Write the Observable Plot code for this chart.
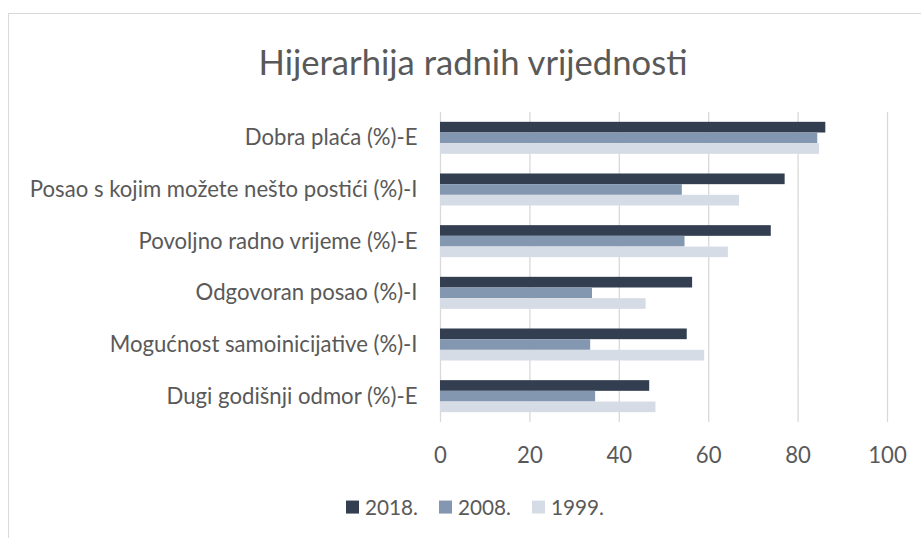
<!DOCTYPE html>
<html>
<head>
<meta charset="utf-8">
<script src="https://cdn.jsdelivr.net/npm/d3@7"></script>
<script src="https://cdn.jsdelivr.net/npm/@observablehq/plot@0.6"></script>
<style>
  html, body { margin: 0; padding: 0; background: #fff; }
  body { width: 921px; height: 538px; overflow: hidden; position: relative; font-family: Lato, "Open Sans", sans-serif; color: #595959; }
  #frame { position: absolute; left: 8px; top: 13px; width: 960px; height: 600px; border-top: 1px solid #d9d9d9; border-left: 1px solid #d9d9d9; }
  #title { position: absolute; left: 0; width: 946px; top: 62px; transform: translateY(-50%); text-align: center; white-space: nowrap; line-height: 1.2; }
  #chart { position: absolute; left: 0; top: 0; }
  #legend { position: absolute; left: 346px; top: 507px; transform: translateY(-50%); display: flex; align-items: center; white-space: nowrap; line-height: 1.2; }
  .sw { display: inline-block; width: 13px; height: 13px; margin-right: 6px; flex: none; }
  .item { display: flex; align-items: center; width: 93px; }
</style>
</head>
<body>
<div id="frame"></div>
<div id="title">Hijerarhija radnih vrijednosti</div>
<div id="chart"></div>
<div id="legend"></div>
<script>
const categories = [
  "Dobra plaća (%)-E",
  "Posao s kojim možete nešto postići (%)-I",
  "Povoljno radno vrijeme (%)-E",
  "Odgovoran posao (%)-I",
  "Mogućnost samoinicijative (%)-I",
  "Dugi godišnji odmor (%)-E"
];
const years = ["2018.", "2008.", "1999."];
const v2018 = [86.2, 77.1, 74.0, 56.4, 55.2, 46.8];
const v2008 = [84.4, 54.1, 54.7, 34.0, 33.6, 34.7];
const v1999 = [84.8, 66.9, 64.4, 46.0, 59.1, 48.2];
const colors = ["#333F50", "#8497B0", "#D6DCE5"];
const xTicks = [0, 20, 40, 60, 80, 100];

const series = [v2018, v2008, v1999];
const data = [];
categories.forEach((c, i) => {
  years.forEach((y, j) => data.push({category: c, year: y, value: series[j][i]}));
});

// fit font sizes by measuring text
const ctx = document.createElement("canvas").getContext("2d");
const fam = "Lato";
function fit(text, target) {
  ctx.font = `100px ${fam}`;
  return 100 * target / ctx.measureText(text).width;
}
const titleSize = fit("Hijerarhija radnih vrijednosti", 430);
const labelSize = fit("Posao s kojim možete nešto postići (%)-I", 388);
const legendSize = fit("2018.", 53);

const title = document.getElementById("title");
title.style.fontSize = titleSize + "px";
title.style.fontFamily = fam;

const chart = Plot.plot({
  width: 921,
  height: 470,
  marginLeft: 440,
  marginRight: 34,
  marginTop: 112,
  marginBottom: 48,
  style: {fontFamily: fam, fontSize: labelSize + "px", color: "#595959", background: "transparent"},
  x: {domain: [0, 100], axis: null},
  y: {domain: years, axis: null, paddingInner: 0, paddingOuter: 0.92, round: false},
  fy: {domain: categories, padding: 0, axis: null, round: false},
  color: {domain: years, range: colors},
  marks: [
    Plot.gridX(xTicks, {stroke: "#d9d9d9", strokeOpacity: 1, strokeWidth: 1.3}),
    Plot.barX(data, {x: "value", y: "year", fy: "category", fill: "year"}),
    Plot.axisX(xTicks, {tickSize: 0, tickPadding: 25, label: null, fill: "#595959"}),
    Plot.axisFy({anchor: "left", tickSize: 0, tickPadding: 23, label: null, fill: "#595959"})
  ]
});
document.getElementById("chart").appendChild(chart);

const legend = document.getElementById("legend");
legend.style.fontSize = legendSize + "px";
years.forEach((y, j) => {
  const it = document.createElement("div");
  it.className = "item";
  const sw = document.createElement("span");
  sw.className = "sw";
  sw.style.background = colors[j];
  it.appendChild(sw);
  it.appendChild(document.createTextNode(y));
  legend.appendChild(it);
});
</script>
</body>
</html>
